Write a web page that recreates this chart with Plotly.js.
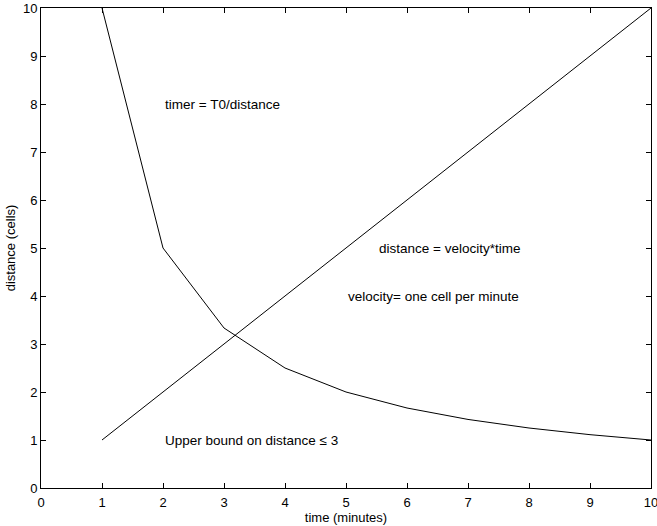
<!DOCTYPE html>
<html><head><meta charset="utf-8">
<script src="https://cdn.plot.ly/plotly-3.0.1.min.js"></script>
<style>html,body{margin:0;padding:0;background:#fff}#chart{width:657px;height:526px}</style>
</head><body><div id="chart"></div>
<script>
// distance = velocity*time
const lineTime = [1,2,3,4,5,6,7,8,9,10];
const lineDistance = [1,2,3,4,5,6,7,8,9,10];
// timer = T0/distance
const timerX = [1,2,3,4,5,6,7,8,9,10];
const timerY = [10,5,3.3333,2.5,2,1.6667,1.4286,1.25,1.1111,1];
const tickVals = [0,1,2,3,4,5,6,7,8,9,10];
const labels = [
  {text:'timer = T0/distance', x:2, y:8},
  {text:'distance = velocity*time', x:5.5, y:5},
  {text:'velocity= one cell per minute', x:5, y:4},
  {text:'Upper bound on distance \u2264 3', x:2, y:1}
];
const fam = 'Liberation Sans, Arial, Helvetica, sans-serif';
const annFont = {family:fam, size:13.5, color:'#000'};
const titleFont = {family:fam, size:13, color:'#000'};
const traces = [
  {x:timerX, y:timerY, mode:'lines', line:{color:'#000', width:1}, hoverinfo:'none'},
  {x:lineTime, y:lineDistance, mode:'lines', line:{color:'#000', width:1}, hoverinfo:'none'}
];
const axisBase = {range:[0,10], tickvals:tickVals, ticks:'inside', ticklen:5, tickcolor:'#000', tickwidth:1,
  showline:true, linecolor:'#000', linewidth:1, mirror:'ticks', showgrid:false, zeroline:false,
  ticklabeloverflow:'allow',
  tickfont:{family:fam, size:13, color:'#000'}};
const layout = {
  width:657, height:526, showlegend:false,
  margin:{l:41, r:6, t:8, b:38},
  paper_bgcolor:'#fff', plot_bgcolor:'#fff', font:titleFont,
  xaxis:Object.assign({}, axisBase, {ticklabelstandoff:2, title:{text:'time (minutes)', font:titleFont, standoff:0}}),
  yaxis:Object.assign({}, axisBase, {title:{text:'distance (cells)', font:titleFont, standoff:4}}),
  annotations: labels.map(l => ({text:l.text, x:l.x, y:l.y, xref:'x', yref:'y', xanchor:'left', yanchor:'middle', showarrow:false, font:annFont}))
};
Plotly.newPlot('chart', traces, layout, {staticPlot:true, displayModeBar:false});
</script></body></html>
